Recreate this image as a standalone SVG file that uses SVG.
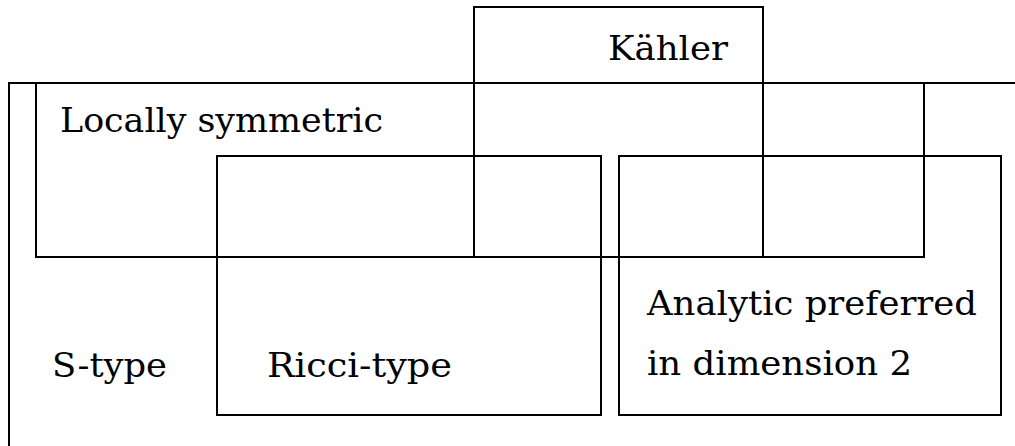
<svg xmlns="http://www.w3.org/2000/svg" width="1015" height="446" viewBox="0 0 1015 446">
<style>
.box{fill:none;stroke:#000;stroke-width:2}
.lbl{font-family:"DejaVu Serif","Liberation Serif",serif;font-size:33px;fill:#000}
</style>
<rect width="1015" height="446" fill="#fff"/>
<g id="s-type">
<path class="box" d="M1015,83 H9 V446"/>
<text class="lbl" x="52" y="377" textLength="115" lengthAdjust="spacingAndGlyphs">S-type</text>
</g>
<g id="locally-symmetric">
<rect class="box" x="36" y="83" width="888" height="174"/>
<text class="lbl" x="60" y="132" textLength="323" lengthAdjust="spacingAndGlyphs">Locally symmetric</text>
</g>
<g id="kahler">
<rect class="box" x="474" y="7" width="289" height="250"/>
<text class="lbl" x="608" y="60" textLength="120" lengthAdjust="spacingAndGlyphs">Kähler</text>
</g>
<g id="ricci-type">
<rect class="box" x="217" y="156" width="384" height="259"/>
<text class="lbl" x="267" y="377" textLength="185" lengthAdjust="spacingAndGlyphs">Ricci-type</text>
</g>
<g id="analytic-preferred">
<rect class="box" x="619" y="156" width="382" height="259"/>
<text class="lbl" x="647" y="315" textLength="330" lengthAdjust="spacingAndGlyphs">Analytic preferred</text>
<text class="lbl" x="647" y="375" textLength="265" lengthAdjust="spacingAndGlyphs">in dimension 2</text>
</g>
<g id="connectors"/>
</svg>
